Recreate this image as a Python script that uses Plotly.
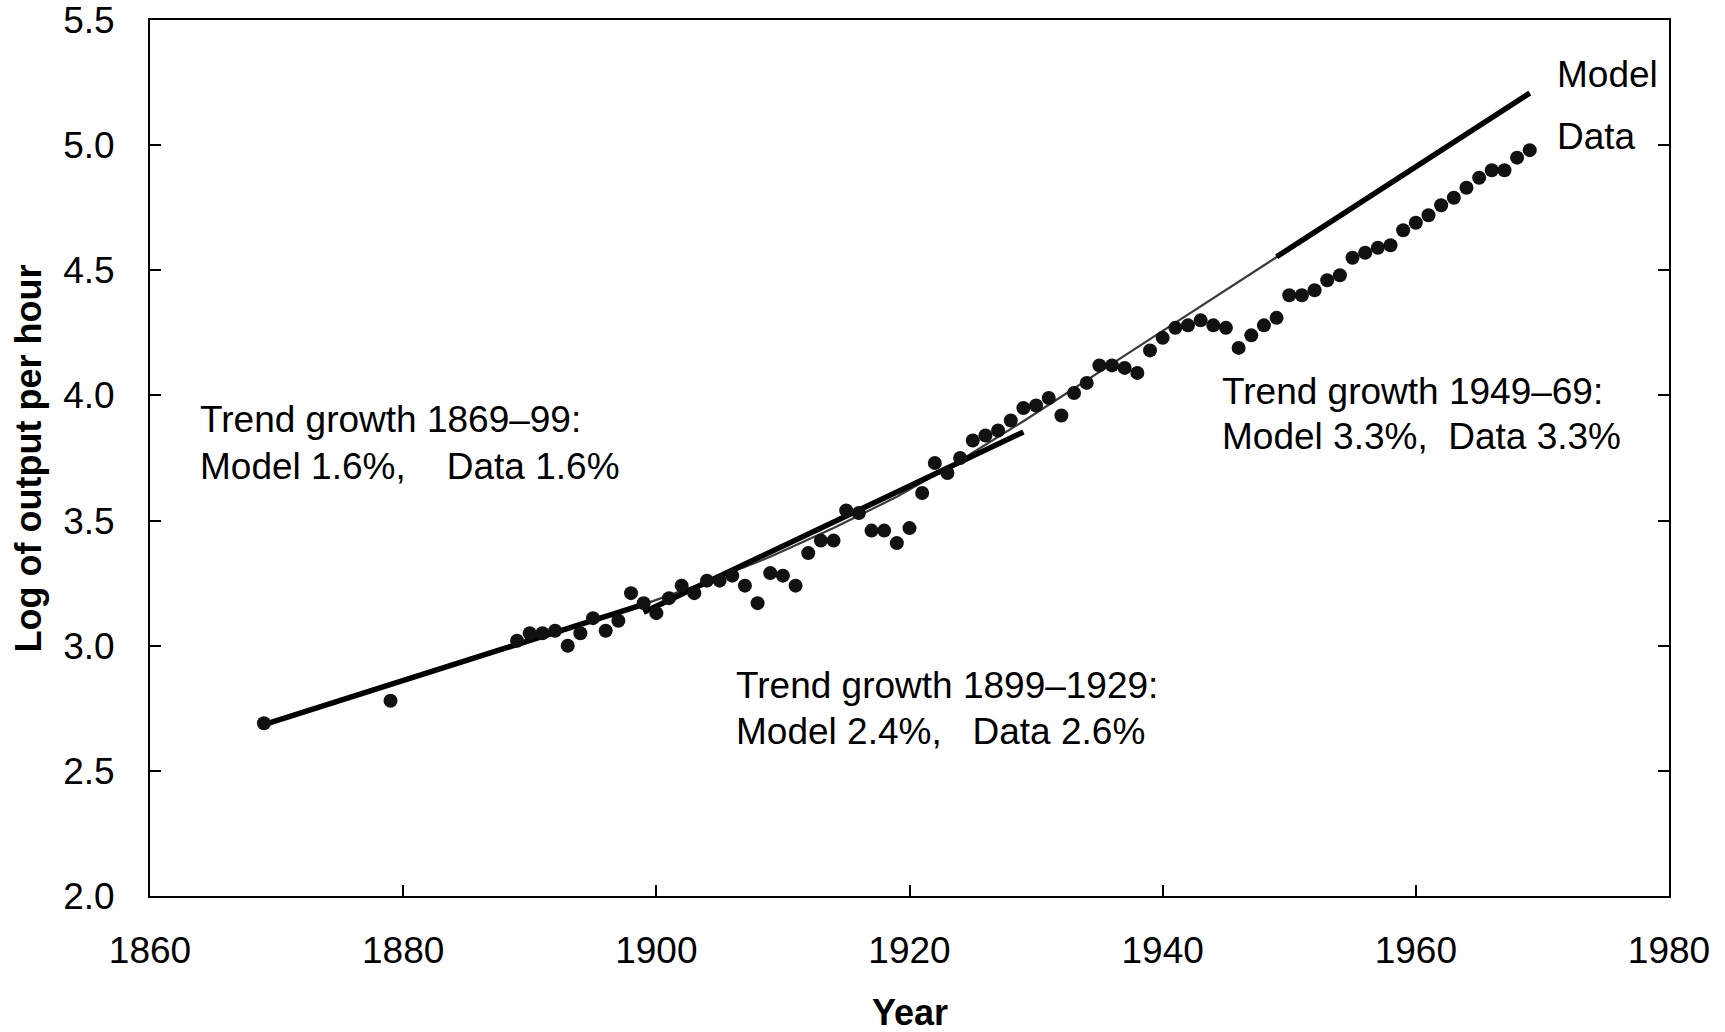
import plotly.graph_objects as go

# Observed data (log of output per hour)
data_years = [1869, 1879] + list(range(1889, 1970))
data_values = [
    2.69, 2.78,
    3.02, 3.05, 3.05, 3.06, 3.00, 3.05, 3.11, 3.06, 3.10, 3.21,  # 1889-1898
    3.17, 3.13, 3.19, 3.24, 3.21, 3.26, 3.26, 3.28, 3.24, 3.17,  # 1899-1908
    3.29, 3.28, 3.24, 3.37, 3.42, 3.42, 3.54, 3.53, 3.46, 3.46,  # 1909-1918
    3.41, 3.47, 3.61, 3.73, 3.69, 3.75, 3.82, 3.84, 3.86, 3.90,  # 1919-1928
    3.95, 3.96, 3.99, 3.92, 4.01, 4.05, 4.12, 4.12, 4.11, 4.09,  # 1929-1938
    4.18, 4.23, 4.27, 4.28, 4.30, 4.28, 4.27, 4.19, 4.24, 4.28,  # 1939-1948
    4.31, 4.40, 4.40, 4.42, 4.46, 4.48, 4.55, 4.57, 4.59, 4.60,  # 1949-1958
    4.66, 4.69, 4.72, 4.76, 4.79, 4.83, 4.87, 4.90, 4.90, 4.95,  # 1959-1968
    4.98,                                                        # 1969
]

# Model path (thin line)
model_years = [1869, 1879, 1889, 1899, 1904, 1909, 1914, 1919, 1924, 1929, 1939, 1949, 1959, 1969]
model_values = [2.685, 2.85, 3.01, 3.165, 3.255, 3.355, 3.47, 3.595, 3.74, 3.897, 4.225, 4.554, 4.88, 5.208]

# Model trend lines (thick segments)
trend1_years = [1869, 1899]
trend1_values = [2.685, 3.165]
trend2_years = [1899, 1929]
trend2_values = [3.134, 3.854]
trend3_years = [1949, 1969]
trend3_values = [4.554, 5.208]

x_ticks = [1860, 1880, 1900, 1920, 1940, 1960, 1980]
y_ticks = [2.0, 2.5, 3.0, 3.5, 4.0, 4.5, 5.0, 5.5]

FONT = "Liberation Sans, Arial, sans-serif"

fig = go.Figure()
fig.add_trace(go.Scatter(x=model_years, y=model_values, mode="lines",
                         line=dict(color="#3a3a3a", width=2.2), hoverinfo="skip"))
for xs, ys in [(trend1_years, trend1_values), (trend2_years, trend2_values),
               (trend3_years, trend3_values)]:
    fig.add_trace(go.Scatter(x=xs, y=ys, mode="lines",
                             line=dict(color="#000000", width=5.5)))
fig.add_trace(go.Scatter(x=data_years, y=data_values, mode="markers",
                         marker=dict(color="#111111", size=14, line=dict(width=0))))

annots = [
    (1863.8, 3.902, "Trend growth 1869\u201399:"),
    (1863.8, 3.717, "Model 1.6%,\u00a0\u00a0\u00a0\u00a0Data 1.6%"),
    (1906.1, 2.843, "Trend growth 1899\u20131929:"),
    (1906.1, 2.657, "Model 2.4%,\u00a0\u00a0\u00a0Data 2.6%"),
    (1944.5, 4.016, "Trend growth 1949\u201369:"),
    (1944.5, 3.835, "Model 3.3%,\u00a0\u00a0Data 3.3%"),
    (1971.0, 5.282, "Model"),
    (1971.0, 5.036, "Data"),
]
annotations = []
for x, y, t in annots:
    annotations.append(dict(x=x, y=y, xref="x", yref="y", text=t, showarrow=False,
                            xanchor="left", yanchor="middle",
                            font=dict(family=FONT, size=37, color="#000")))
annotations.append(dict(x=0.5, y=-0.133, xref="paper", yref="paper", text="<b>Year</b>",
                        showarrow=False, xanchor="center", yanchor="middle",
                        font=dict(family=FONT, size=36, color="#000")))
annotations.append(dict(x=-0.080, y=0.5, xref="paper", yref="paper",
                        text="<b>Log of output per hour</b>", textangle=-90,
                        showarrow=False, xanchor="center", yanchor="middle",
                        font=dict(family=FONT, size=36, color="#000")))

fig.update_layout(
    width=1725, height=1032,
    margin=dict(l=149.5, r=56.3, t=20.3, b=136, autoexpand=False),
    paper_bgcolor="white", plot_bgcolor="white",
    showlegend=False,
    font=dict(family=FONT, size=37, color="#000"),
    annotations=annotations,
)
fig.update_xaxes(range=[1860, 1980], tickvals=x_ticks, ticktext=[str(v) for v in x_ticks],
                 showgrid=False, zeroline=False, showline=True, linecolor="#000", linewidth=2,
                 mirror=True, ticks="inside", ticklen=11, tickwidth=1.5, tickcolor="#000",
                 ticklabelstandoff=21, tickfont=dict(size=37))
fig.update_yaxes(range=[1.9999, 5.5001], tickvals=y_ticks, ticktext=[f"{v:.1f}" for v in y_ticks],
                 showgrid=False, zeroline=False, showline=True, linecolor="#000", linewidth=2,
                 mirror="ticks", ticks="inside", ticklen=11, tickwidth=1.5, tickcolor="#000",
                 ticklabelstandoff=26, tickfont=dict(size=37), ticklabeloverflow="allow")

fig.write_html("out.html")
